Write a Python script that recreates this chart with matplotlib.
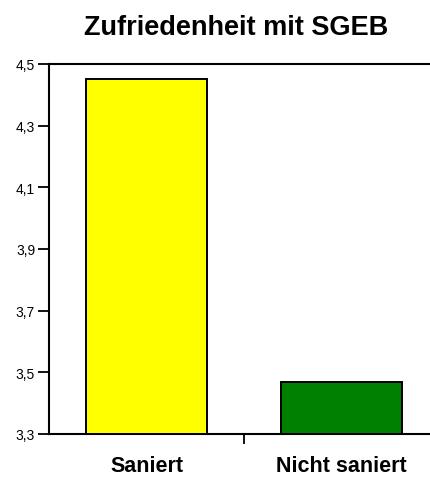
import matplotlib
matplotlib.use("Agg")
import matplotlib.pyplot as plt
from matplotlib.ticker import FixedLocator

categories = ["Saniert", "Nicht saniert"]
values = [4.45, 3.47]
colors = ["#FFFF00", "#008000"]
yticks = [3.3, 3.5, 3.7, 3.9, 4.1, 4.3, 4.5]
ytick_labels = ["3,3", "3,5", "3,7", "3,9", "4,1", "4,3", "4,5"]
title = "Zufriedenheit mit SGEB"

plt.rcParams['font.family'] = ['Liberation Sans', 'DejaVu Sans']

fig = plt.figure(figsize=(4.30, 4.81), dpi=100)
ax = fig.add_axes([49/430, 1-435/481, 390/430, (435-65)/481])

x = list(range(len(categories)))
ax.bar(x, [v - 3.3 for v in values], bottom=3.3, width=0.625, color=colors,
       edgecolor="black", linewidth=1.4, zorder=3)

ax.set_xlim(-0.5, 1.5)
ax.set_ylim(3.3, 4.5)
ax.set_yticks(yticks)
ax.set_yticklabels(ytick_labels, fontsize=10)
ax.set_xticks(x)
ax.set_xticklabels(categories, fontsize=15.5, fontweight="bold")
ax.tick_params(axis="x", length=0, pad=15)
ax.xaxis.set_minor_locator(FixedLocator([0.5]))
ax.tick_params(axis="x", which="minor", length=7, width=1.3, direction="out")
ax.tick_params(axis="y", length=8, width=1.3, direction="out", pad=2)

for s in ["left", "bottom", "top"]:
    ax.spines[s].set_linewidth(1.5)
ax.spines["right"].set_visible(False)

fig.text(236/430, 1-28/481, title, ha="center", va="center", fontsize=19.5, fontweight="bold")

fig.savefig("out.png", dpi=100)
